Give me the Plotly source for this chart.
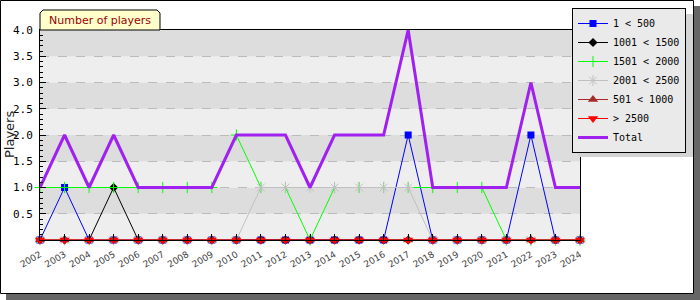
import plotly.graph_objects as go

years = list(range(2002, 2025))
year_labels = [str(y) for y in years]

s_1_500 = [0, 1, 0, 0, 0, 0, 0, 0, 0, 0, 0, 0, 0, 0, 0, 2, 0, 0, 0, 0, 2, 0, 0]
s_1001_1500 = [0, 0, 0, 1, 0, 0, 0, 0, 0, 0, 0, 0, 0, 0, 0, 0, 0, 0, 0, 0, 0, 0, 0]
s_1501_2000 = [1, 1, 1, 1, 1, 1, 1, 1, 2, 1, 1, 0, 1, 1, 1, 1, 1, 1, 1, 0, 0, 0, 0]
s_2001_2500 = [0, 0, 0, 0, 0, 0, 0, 0, 0, 1, 1, 1, 1, 1, 1, 1, 0, 0, 0, 0, 0, 0, 0]
s_501_1000 = [0] * 23
s_2500_up = [0] * 23
total = [1, 2, 1, 2, 1, 1, 1, 1, 2, 2, 2, 1, 2, 2, 2, 4, 1, 1, 1, 1, 3, 1, 1]

series_names = ["1 < 500", "1001 < 1500", "1501 < 2000", "2001 < 2500",
                "501 < 1000", "> 2500", "Total"]

y_tick_vals = [0.5, 1.0, 1.5, 2.0, 2.5, 3.0, 3.5, 4.0]
y_tick_text = ["0.5", "1.0", "1.5", "2.0", "2.5", "3.0", "3.5", "4.0"]

W, H = 700, 300
L, R, T, B = 40, 580, 30, 240


def px(x):
    return (x - L) / (R - L)


def py(y):
    return (B - y) / (B - T)


fig = go.Figure()

specs = [
    (s_1_500, series_names[0], "#0000ff", 1, dict(symbol="square", size=7, color="#0000ff")),
    (s_1001_1500, series_names[1], "#000000", 1, dict(symbol="diamond", size=7, color="#000000")),
    (s_1501_2000, series_names[2], "#00ff00", 1, dict(symbol="cross-thin", size=8, color="#00ff00",
                                                     line=dict(color="#00ff00", width=1))),
    (s_2001_2500, series_names[3], "#c0c0c0", 1, dict(symbol="asterisk", size=9, color="#c0c0c0",
                                                     line=dict(color="#c0c0c0", width=1))),
    (s_501_1000, series_names[4], "#a52a2a", 1, dict(symbol="triangle-up", size=9, color="#a52a2a")),
    (s_2500_up, series_names[5], "#ff0000", 1, dict(symbol="triangle-down", size=9, color="#ff0000")),
]
for vals, name, col, lw, mk in specs:
    fig.add_trace(go.Scatter(x=years, y=vals, name=name, mode="lines+markers",
                             line=dict(color=col, width=lw), marker=mk, cliponaxis=False))

fig.add_trace(go.Scatter(x=years, y=total, name=series_names[6], mode="lines",
                         line=dict(color="#a020f0", width=3), cliponaxis=False))

LEG_L, LEG_T, LEG_R, LEG_B = 572, 8, 687, 151

shapes = []
# figure frame shadow and outline
shapes.append(dict(type="rect", xref="paper", yref="paper", x0=px(694), x1=px(700), y0=py(6), y1=py(300),
                   fillcolor="#666666", line=dict(width=0), layer="below"))
shapes.append(dict(type="rect", xref="paper", yref="paper", x0=px(6), x1=px(700), y0=py(294), y1=py(300),
                   fillcolor="#666666", line=dict(width=0), layer="below"))
shapes.append(dict(type="rect", xref="paper", yref="paper", x0=px(0.5), x1=px(693.5), y0=py(0.5), y1=py(293.5),
                   fillcolor="rgba(0,0,0,0)", line=dict(color="#000000", width=1), layer="below"))
# alternating bands
bands = [0, 0.5, 1.0, 1.5, 2.0, 2.5, 3.0, 3.5, 4.0]
for i in range(len(bands) - 1):
    shapes.append(dict(type="rect", xref="paper", yref="y", x0=0, x1=1, y0=bands[i], y1=bands[i + 1],
                       fillcolor="#eeeeee" if i % 2 == 0 else "#dddddd", line=dict(width=0), layer="below"))
# title tab
tab = [(40, 30), (40, 13), (43, 10), (157, 10), (160, 13), (160, 30)]
path = "M " + " L ".join(f"{px(a):.5f},{py(b):.5f}" for a, b in tab) + " Z"
shapes.append(dict(type="path", xref="paper", yref="paper", path=path,
                   fillcolor="#ffffcc", line=dict(color="#000000", width=1), layer="above"))
# legend shadow
shapes.append(dict(type="rect", xref="paper", yref="paper", x0=px(LEG_L + 6), x1=px(LEG_R + 6),
                   y0=py(LEG_T + 6), y1=py(LEG_B + 6),
                   fillcolor="#d4d4d4", line=dict(width=0), layer="above"))

annotations = [
    dict(text="Number of players", xref="paper", yref="paper", x=px(100), y=py(20.5),
         showarrow=False, font=dict(family="DejaVu Sans", size=11, color="#990000"),
         xanchor="center", yanchor="middle"),
    dict(text="Players", xref="paper", yref="paper", x=px(9), y=py(135), textangle=-90,
         showarrow=False, font=dict(family="DejaVu Sans", size=13, color="#222222"),
         xanchor="center", yanchor="middle"),
]

fig.update_layout(
    width=W, height=H,
    margin=dict(l=L, r=W - R, t=T, b=H - B, autoexpand=False),
    paper_bgcolor="#ffffff", plot_bgcolor="#eeeeee",
    shapes=shapes, annotations=annotations,
    showlegend=True,
    legend=dict(x=px(LEG_L), y=py(LEG_T), xanchor="left", yanchor="top",
                bgcolor="#eaeaea", bordercolor="#000000", borderwidth=1,
                font=dict(family="DejaVu Sans Mono", size=10, color="#000000"),
                traceorder="normal", itemwidth=30),
    xaxis=dict(range=[years[0], years[-1]], tickvals=years, ticktext=year_labels,
               tickangle=-30, tickfont=dict(family="DejaVu Sans", size=9, color="#444444"),
               showgrid=False, zeroline=False, showline=True, linecolor="#000000", linewidth=1,
               mirror=True, ticks="inside", ticklen=6, tickcolor="#000000", automargin=False,
               ticklabelstandoff=5),
    yaxis=dict(range=[0, 4], tickvals=y_tick_vals, ticktext=y_tick_text,
               tickfont=dict(family="DejaVu Sans Mono", size=11, color="#000000"),
               showgrid=True, gridcolor="#bbbbbb", griddash="dash", gridwidth=1,
               zeroline=False, showline=True, linecolor="#000000", linewidth=1, mirror=True,
               ticks="inside", ticklen=6, tickcolor="#000000", automargin=False,
               ticklabelstandoff=4,
               minor=dict(dtick=0.1, ticks="inside", ticklen=3, tickcolor="#000000", showgrid=False)),
)

fig.write_html("out.html")
